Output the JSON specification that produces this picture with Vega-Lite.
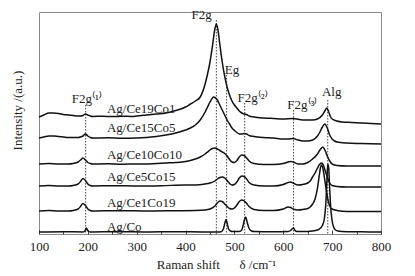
{
"$schema": "https://vega.github.io/schema/vega-lite/v6.json",
"width": 342, "height": 222,
"autosize": {"type": "none"},
"padding": {"left": 39, "top": 12, "right": 34, "bottom": 42},
"background": "white",
"config": {"view": {"stroke": "#8a8a8a", "strokeWidth": 1}, "font": "Liberation Serif"},
"datasets": {
"spec": [
{"s":"A","x":100,"y":117},{"s":"A","x":110,"y":119},{"s":"A","x":120,"y":121},{"s":"A","x":130,"y":121},{"s":"A","x":140,"y":120.5},{"s":"A","x":150,"y":119.5},{"s":"A","x":160,"y":119},{"s":"A","x":170,"y":118.5},{"s":"A","x":180,"y":118},{"s":"A","x":185,"y":118},{"s":"A","x":190,"y":118.5},{"s":"A","x":195,"y":120},{"s":"A","x":200,"y":119},{"s":"A","x":205,"y":118},{"s":"A","x":210,"y":117.5},{"s":"A","x":230,"y":117.8},{"s":"A","x":250,"y":117.4},{"s":"A","x":270,"y":117.8},{"s":"A","x":290,"y":117.6},{"s":"A","x":300,"y":118},{"s":"A","x":320,"y":119},{"s":"A","x":340,"y":120},{"s":"A","x":360,"y":121},{"s":"A","x":380,"y":123.5},{"s":"A","x":400,"y":127},{"s":"A","x":410,"y":130},{"s":"A","x":420,"y":133},{"s":"A","x":430,"y":137},{"s":"A","x":440,"y":150},{"s":"A","x":445,"y":160},{"s":"A","x":450,"y":172},{"s":"A","x":455,"y":188},{"s":"A","x":460,"y":205},{"s":"A","x":463,"y":210},{"s":"A","x":466,"y":205},{"s":"A","x":470,"y":190},{"s":"A","x":475,"y":172},{"s":"A","x":480,"y":158},{"s":"A","x":485,"y":147},{"s":"A","x":490,"y":139},{"s":"A","x":495,"y":133},{"s":"A","x":500,"y":129},{"s":"A","x":505,"y":126},{"s":"A","x":510,"y":123},{"s":"A","x":515,"y":121},{"s":"A","x":520,"y":120},{"s":"A","x":525,"y":119.5},{"s":"A","x":530,"y":118},{"s":"A","x":540,"y":117},{"s":"A","x":560,"y":116},{"s":"A","x":580,"y":115.5},{"s":"A","x":600,"y":115},{"s":"A","x":620,"y":115.5},{"s":"A","x":640,"y":114},{"s":"A","x":660,"y":114},{"s":"A","x":670,"y":115},{"s":"A","x":680,"y":119},{"s":"A","x":685,"y":123},{"s":"A","x":689,"y":126},{"s":"A","x":693,"y":122},{"s":"A","x":697,"y":117},{"s":"A","x":700,"y":115},{"s":"A","x":710,"y":113},{"s":"A","x":720,"y":112},{"s":"A","x":740,"y":111.5},{"s":"A","x":760,"y":111},{"s":"A","x":780,"y":110.5},{"s":"A","x":800,"y":110},
{"s":"B","x":100,"y":96},{"s":"B","x":110,"y":97},{"s":"B","x":120,"y":98},{"s":"B","x":130,"y":98},{"s":"B","x":140,"y":97.5},{"s":"B","x":150,"y":97},{"s":"B","x":160,"y":96.5},{"s":"B","x":180,"y":96.5},{"s":"B","x":185,"y":97},{"s":"B","x":190,"y":98},{"s":"B","x":195,"y":100},{"s":"B","x":200,"y":98},{"s":"B","x":205,"y":96.5},{"s":"B","x":210,"y":96},{"s":"B","x":240,"y":96.2},{"s":"B","x":270,"y":95.8},{"s":"B","x":300,"y":96},{"s":"B","x":320,"y":96.5},{"s":"B","x":340,"y":97.5},{"s":"B","x":360,"y":99},{"s":"B","x":380,"y":101},{"s":"B","x":400,"y":104},{"s":"B","x":410,"y":106},{"s":"B","x":420,"y":109},{"s":"B","x":430,"y":114},{"s":"B","x":440,"y":122},{"s":"B","x":445,"y":127},{"s":"B","x":450,"y":132},{"s":"B","x":455,"y":136},{"s":"B","x":458,"y":137},{"s":"B","x":460,"y":136.5},{"s":"B","x":465,"y":134},{"s":"B","x":470,"y":129},{"s":"B","x":475,"y":124},{"s":"B","x":480,"y":119},{"s":"B","x":485,"y":114},{"s":"B","x":490,"y":110},{"s":"B","x":495,"y":106},{"s":"B","x":500,"y":103.5},{"s":"B","x":505,"y":101.5},{"s":"B","x":510,"y":100},{"s":"B","x":515,"y":100},{"s":"B","x":520,"y":100.5},{"s":"B","x":525,"y":100},{"s":"B","x":530,"y":98.5},{"s":"B","x":540,"y":97.5},{"s":"B","x":560,"y":96.5},{"s":"B","x":580,"y":96},{"s":"B","x":600,"y":95},{"s":"B","x":610,"y":95},{"s":"B","x":620,"y":95.5},{"s":"B","x":630,"y":94},{"s":"B","x":640,"y":93},{"s":"B","x":650,"y":93},{"s":"B","x":660,"y":94},{"s":"B","x":670,"y":98},{"s":"B","x":675,"y":102},{"s":"B","x":680,"y":107},{"s":"B","x":685,"y":110},{"s":"B","x":690,"y":106},{"s":"B","x":695,"y":99},{"s":"B","x":700,"y":95},{"s":"B","x":705,"y":93},{"s":"B","x":710,"y":92},{"s":"B","x":730,"y":91},{"s":"B","x":760,"y":90.5},{"s":"B","x":800,"y":90},
{"s":"C","x":100,"y":70},{"s":"C","x":120,"y":70.5},{"s":"C","x":140,"y":70},{"s":"C","x":160,"y":70},{"s":"C","x":170,"y":70.5},{"s":"C","x":180,"y":72},{"s":"C","x":185,"y":74},{"s":"C","x":190,"y":76},{"s":"C","x":195,"y":74},{"s":"C","x":200,"y":71.5},{"s":"C","x":205,"y":70.5},{"s":"C","x":210,"y":70},{"s":"C","x":240,"y":70.2},{"s":"C","x":270,"y":69.8},{"s":"C","x":300,"y":70},{"s":"C","x":320,"y":70},{"s":"C","x":340,"y":70.5},{"s":"C","x":360,"y":71},{"s":"C","x":380,"y":71.5},{"s":"C","x":400,"y":72.5},{"s":"C","x":410,"y":73.5},{"s":"C","x":420,"y":75},{"s":"C","x":430,"y":77},{"s":"C","x":440,"y":80},{"s":"C","x":445,"y":82},{"s":"C","x":450,"y":84},{"s":"C","x":455,"y":85.5},{"s":"C","x":460,"y":86},{"s":"C","x":465,"y":85},{"s":"C","x":470,"y":83.5},{"s":"C","x":475,"y":82},{"s":"C","x":480,"y":80.5},{"s":"C","x":485,"y":78},{"s":"C","x":490,"y":74.5},{"s":"C","x":495,"y":72},{"s":"C","x":500,"y":71.5},{"s":"C","x":505,"y":73.5},{"s":"C","x":510,"y":77},{"s":"C","x":515,"y":79},{"s":"C","x":520,"y":78.5},{"s":"C","x":525,"y":76},{"s":"C","x":530,"y":73},{"s":"C","x":540,"y":70.5},{"s":"C","x":560,"y":69.5},{"s":"C","x":580,"y":69.5},{"s":"C","x":600,"y":70.5},{"s":"C","x":610,"y":72},{"s":"C","x":615,"y":72.5},{"s":"C","x":620,"y":72},{"s":"C","x":630,"y":70},{"s":"C","x":640,"y":70},{"s":"C","x":650,"y":71.5},{"s":"C","x":660,"y":75},{"s":"C","x":670,"y":80},{"s":"C","x":675,"y":84},{"s":"C","x":681,"y":87},{"s":"C","x":686,"y":83},{"s":"C","x":690,"y":78},{"s":"C","x":695,"y":73},{"s":"C","x":700,"y":70},{"s":"C","x":710,"y":68.5},{"s":"C","x":730,"y":68},{"s":"C","x":760,"y":68},{"s":"C","x":800,"y":68},
{"s":"D","x":100,"y":48},{"s":"D","x":120,"y":48.5},{"s":"D","x":140,"y":48},{"s":"D","x":160,"y":48},{"s":"D","x":170,"y":48.5},{"s":"D","x":180,"y":50},{"s":"D","x":185,"y":52.5},{"s":"D","x":190,"y":55.5},{"s":"D","x":195,"y":53.5},{"s":"D","x":200,"y":50},{"s":"D","x":205,"y":48.5},{"s":"D","x":210,"y":48},{"s":"D","x":250,"y":48.3},{"s":"D","x":300,"y":48},{"s":"D","x":350,"y":48.3},{"s":"D","x":400,"y":49},{"s":"D","x":420,"y":49},{"s":"D","x":440,"y":50},{"s":"D","x":450,"y":51},{"s":"D","x":460,"y":53},{"s":"D","x":465,"y":55},{"s":"D","x":470,"y":56.5},{"s":"D","x":475,"y":57},{"s":"D","x":480,"y":56},{"s":"D","x":485,"y":53.5},{"s":"D","x":490,"y":50.5},{"s":"D","x":495,"y":49},{"s":"D","x":500,"y":49.5},{"s":"D","x":505,"y":52},{"s":"D","x":510,"y":56},{"s":"D","x":515,"y":58},{"s":"D","x":520,"y":57.5},{"s":"D","x":525,"y":55},{"s":"D","x":530,"y":51.5},{"s":"D","x":540,"y":49},{"s":"D","x":560,"y":48},{"s":"D","x":580,"y":48},{"s":"D","x":600,"y":49.5},{"s":"D","x":610,"y":51.5},{"s":"D","x":615,"y":52},{"s":"D","x":620,"y":51},{"s":"D","x":630,"y":49},{"s":"D","x":640,"y":49.5},{"s":"D","x":650,"y":51},{"s":"D","x":655,"y":53},{"s":"D","x":660,"y":57},{"s":"D","x":665,"y":61},{"s":"D","x":670,"y":66},{"s":"D","x":675,"y":70},{"s":"D","x":678,"y":71},{"s":"D","x":682,"y":69},{"s":"D","x":686,"y":63},{"s":"D","x":690,"y":57},{"s":"D","x":695,"y":51},{"s":"D","x":700,"y":48.5},{"s":"D","x":710,"y":47.5},{"s":"D","x":730,"y":47},{"s":"D","x":800,"y":47},
{"s":"E","x":100,"y":23},{"s":"E","x":120,"y":23.5},{"s":"E","x":140,"y":23},{"s":"E","x":160,"y":23},{"s":"E","x":170,"y":23.5},{"s":"E","x":180,"y":25},{"s":"E","x":185,"y":27.5},{"s":"E","x":190,"y":30.5},{"s":"E","x":195,"y":28.5},{"s":"E","x":200,"y":25},{"s":"E","x":205,"y":23.5},{"s":"E","x":210,"y":23},{"s":"E","x":260,"y":23.3},{"s":"E","x":320,"y":23},{"s":"E","x":380,"y":23.3},{"s":"E","x":420,"y":23.5},{"s":"E","x":440,"y":24},{"s":"E","x":450,"y":25},{"s":"E","x":460,"y":28},{"s":"E","x":465,"y":31},{"s":"E","x":470,"y":33},{"s":"E","x":475,"y":32.5},{"s":"E","x":480,"y":30},{"s":"E","x":485,"y":27.5},{"s":"E","x":490,"y":25.5},{"s":"E","x":495,"y":25},{"s":"E","x":500,"y":26},{"s":"E","x":505,"y":29},{"s":"E","x":510,"y":32.5},{"s":"E","x":515,"y":34},{"s":"E","x":520,"y":33},{"s":"E","x":525,"y":30.5},{"s":"E","x":530,"y":27.5},{"s":"E","x":540,"y":24.5},{"s":"E","x":560,"y":23.5},{"s":"E","x":580,"y":23.5},{"s":"E","x":600,"y":25},{"s":"E","x":610,"y":27},{"s":"E","x":615,"y":26.5},{"s":"E","x":620,"y":25},{"s":"E","x":630,"y":24},{"s":"E","x":640,"y":24.5},{"s":"E","x":650,"y":25.5},{"s":"E","x":655,"y":27},{"s":"E","x":660,"y":30},{"s":"E","x":665,"y":35},{"s":"E","x":670,"y":46},{"s":"E","x":673,"y":56},{"s":"E","x":676,"y":66},{"s":"E","x":678,"y":69},{"s":"E","x":681,"y":66},{"s":"E","x":684,"y":57},{"s":"E","x":688,"y":44},{"s":"E","x":692,"y":33},{"s":"E","x":696,"y":27},{"s":"E","x":700,"y":25},{"s":"E","x":710,"y":23.5},{"s":"E","x":730,"y":22.5},{"s":"E","x":800,"y":22.5},
{"s":"F","x":100,"y":2},{"s":"F","x":150,"y":2.3},{"s":"F","x":190,"y":2},{"s":"F","x":193,"y":2.5},{"s":"F","x":196,"y":5},{"s":"F","x":197,"y":6},{"s":"F","x":199,"y":4},{"s":"F","x":202,"y":2.5},{"s":"F","x":205,"y":2},{"s":"F","x":260,"y":2.3},{"s":"F","x":320,"y":2},{"s":"F","x":380,"y":2.3},{"s":"F","x":440,"y":2},{"s":"F","x":470,"y":2},{"s":"F","x":475,"y":3},{"s":"F","x":478,"y":6},{"s":"F","x":481,"y":12},{"s":"F","x":483,"y":14.5},{"s":"F","x":485,"y":11},{"s":"F","x":488,"y":5},{"s":"F","x":492,"y":3},{"s":"F","x":495,"y":2.5},{"s":"F","x":510,"y":2.5},{"s":"F","x":515,"y":4},{"s":"F","x":518,"y":9},{"s":"F","x":521,"y":15},{"s":"F","x":523,"y":17},{"s":"F","x":526,"y":12},{"s":"F","x":530,"y":5.5},{"s":"F","x":535,"y":3},{"s":"F","x":540,"y":2.5},{"s":"F","x":580,"y":2.3},{"s":"F","x":610,"y":2.5},{"s":"F","x":615,"y":3.5},{"s":"F","x":619,"y":5.5},{"s":"F","x":621,"y":6},{"s":"F","x":624,"y":3.5},{"s":"F","x":628,"y":2.5},{"s":"F","x":640,"y":2.5},{"s":"F","x":660,"y":3},{"s":"F","x":670,"y":4},{"s":"F","x":675,"y":5.5},{"s":"F","x":680,"y":8.5},{"s":"F","x":684,"y":15},{"s":"F","x":687,"y":30},{"s":"F","x":689,"y":50},{"s":"F","x":691,"y":70},{"s":"F","x":693,"y":66},{"s":"F","x":695,"y":45},{"s":"F","x":697,"y":27},{"s":"F","x":700,"y":13},{"s":"F","x":703,"y":7},{"s":"F","x":707,"y":4},{"s":"F","x":712,"y":3},{"s":"F","x":720,"y":2.5},{"s":"F","x":760,"y":2.2},{"s":"F","x":800,"y":2}
],
"names": [
{"t":"Ag/Ce19Co1","x":239,"y":125},
{"t":"Ag/Ce15Co5","x":239,"y":106},
{"t":"Ag/Ce10Co10","x":239,"y":79},
{"t":"Ag/Ce5Co15","x":239,"y":57},
{"t":"Ag/Ce1Co19","x":239,"y":31},
{"t":"Ag/Co","x":239,"y":7}
],
"peaks": [
{"t":"F2g⁽¹⁾","x":198,"y":135,"lx":195.5,"top":129},
{"t":"F2g","x":433,"y":219,"lx":463,"top":214},
{"t":"Eg","x":495,"y":164,"lx":484,"top":159},
{"t":"F2g⁽²⁾","x":537,"y":136,"lx":521,"top":131},
{"t":"F2g⁽³⁾","x":639,"y":129,"lx":621,"top":124},
{"t":"Alg","x":699,"y":142,"lx":691,"top":134}
]
},
"layer": [
{
"data": {"name": "peaks"},
"mark": {"type": "rule", "strokeDash": [1.5, 1.5], "strokeWidth": 0.9, "color": "#333"},
"encoding": {
"x": {"field": "lx", "type": "quantitative", "axis": null, "scale": {"domain": [100, 800], "nice": false}},
"y": {"field": "top", "type": "quantitative"},
"y2": {"datum": 0}
}
},
{
"data": {"name": "spec"},
"mark": {"type": "line", "color": "#111", "strokeWidth": 1.5, "interpolate": "monotone"},
"encoding": {
"x": {"field": "x", "type": "quantitative", "scale": {"domain": [100, 800], "nice": false},
"axis": {"values": [100,200,300,400,500,600,700,800], "tickSize": -4, "tickColor": "#444", "domain": false, "grid": false, "labelFlush": false,
"labelFont": "Times New Roman, Liberation Serif, serif", "labelFontSize": 13, "labelColor": "#222", "labelPadding": 10,
"title": "Raman shift\u00a0\u00a0\u00a0\u00a0\u00a0\u00a0δ /cm⁻¹", "titleFont": "Times New Roman, Liberation Serif, serif", "titleFontSize": 13, "titleFontWeight": "normal", "titleColor": "#222", "titlePadding": 5, "titleX": 177}},
"y": {"field": "y", "type": "quantitative", "scale": {"domain": [0, 222], "nice": false, "zero": false},
"axis": {"ticks": false, "labels": false, "domain": false, "grid": false, "title": "Intensity /(a.u.)",
"titleFont": "Times New Roman, Liberation Serif, serif", "titleFontSize": 13, "titleFontWeight": "normal", "titleColor": "#222",
"titleX": -22, "titleY": 98, "titleBaseline": "middle", "titleAlign": "center", "titleAngle": -90}},
"detail": {"field": "s"}
}
},
{
"data": {"values": [{"v": 150}, {"v": 250}, {"v": 350}, {"v": 450}, {"v": 550}, {"v": 650}, {"v": 750}]},
"mark": {"type": "rule", "strokeOpacity": 0},
"encoding": {
"x": {"field": "v", "type": "quantitative", "scale": {"domain": [100, 800], "nice": false},
"axis": {"orient": "bottom", "values": [150,250,350,450,550,650,750], "tickSize": -2.5, "tickColor": "#444", "labels": false, "domain": false, "grid": false, "title": null}}
}
},
{
"data": {"name": "names"},
"mark": {"type": "text", "align": "left", "baseline": "middle", "font": "Times New Roman, Liberation Serif, serif", "fontSize": 13, "color": "#222"},
"encoding": {
"x": {"field": "x", "type": "quantitative", "axis": null},
"y": {"field": "y", "type": "quantitative"},
"text": {"field": "t"}
}
},
{
"data": {"name": "peaks"},
"mark": {"type": "text", "align": "center", "baseline": "middle", "font": "Times New Roman, Liberation Serif, serif", "fontSize": 13, "color": "#222"},
"encoding": {
"x": {"field": "x", "type": "quantitative", "axis": null},
"y": {"field": "y", "type": "quantitative"},
"text": {"field": "t"}
}
}
],
"resolve": {"axis": {"x": "independent"}}
}
